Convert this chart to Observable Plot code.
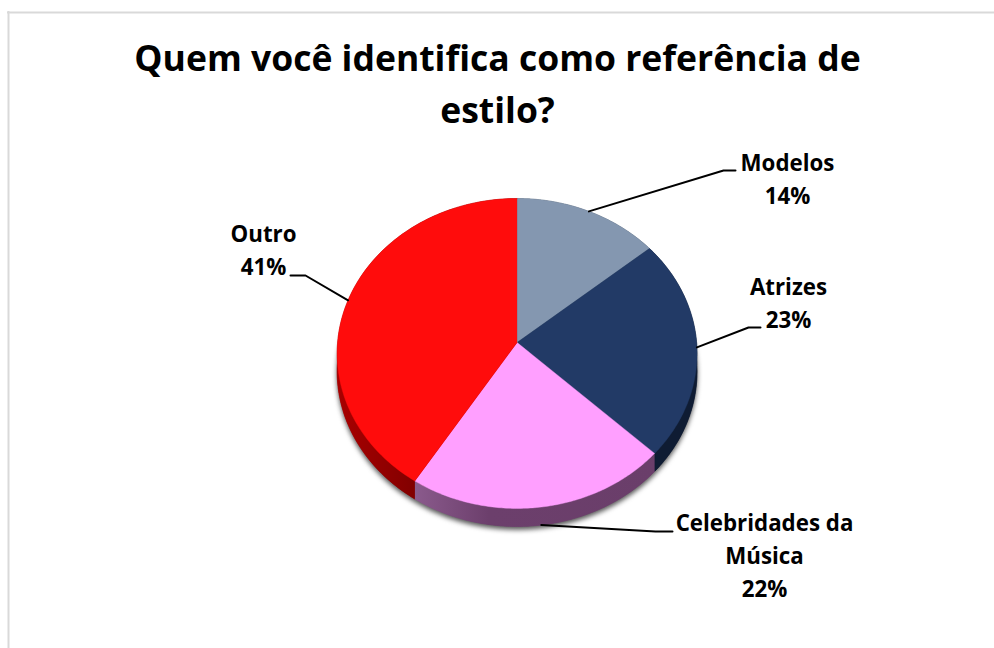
<!DOCTYPE html>
<html lang="pt">
<head>
<meta charset="utf-8">
<script src="https://cdn.jsdelivr.net/npm/d3@7"></script>
<script src="https://cdn.jsdelivr.net/npm/@observablehq/plot@0.6"></script>
<style>
html,body{margin:0;padding:0;background:#fff;overflow:hidden}
svg{display:block}
.shadow{filter:blur(2.5px)}
</style>
</head>
<body>
<script>
const categories = ["Modelos", "Atrizes", "Celebridades da\nMúsica", "Outro"];
const shares = [14, 23, 22, 41];
const titleLines = ["Quem você identifica como referência de\nestilo?"];

const topColors = ["#8497B0", "#223A66", "#FF9FFF", "#FF0C0C"];
const wallColors = ["#4F5B6A", "#0F1C33", "url(#wallPink)", "url(#wallRed)"];

// pie projection: perspective view of a unit disc
const cx = 516.6, cy = 342, R = 179.5, K = 154.2, P = 0.0708, DEPTH = 18;
const proj = (t, r = 1, dy = 0) => {
  const u = r * Math.sin(t), v = -r * Math.cos(t), w = 1 - P * v;
  return [cx + R * u / w, cy + K * v / w + dy];
};
const total = d3.sum(shares);
const cum = d3.cumsum(shares);
const slices = categories.map((name, i) => ({
  name,
  value: shares[i],
  a0: 2 * Math.PI * (cum[i] - shares[i]) / total,
  a1: 2 * Math.PI * cum[i] / total
}));
const arc = (s, dy = 0) => d3.range(0, 1.0001, 1 / 120).map(f => proj(s.a0 + f * (s.a1 - s.a0), 1, dy));
const face = (s, dy = 0) => [proj(0, 0, dy), ...arc(s, dy)];
const wall = s => [...arc(s), ...arc(s, DEPTH).reverse()];
const whole = dy => d3.range(0, 360, 1).map(d => proj(d * Math.PI / 180, 1, dy));

const lineOpts = c => ({x: d => d[0], y: d => d[1], fill: c, stroke: c, strokeWidth: 0.4, curve: "linear"});

// label layout: leader elbow offset, end offset, text centre
const leaders = [
  {elbow: [723, 170], end: [735, 170], text: [787, 176], dy: 0},
  {elbow: [748, 327], end: [760, 327], text: [788, 300], dy: 0},
  {elbow: [655, 531], end: [672, 531], text: [764, 553], dy: DEPTH},
  {elbow: [305, 275], end: [290, 275], text: [263, 247], dy: 0}
];
const labels = slices.map((s, i) => {
  const mid = (s.a0 + s.a1) / 2;
  return {
    label: `${s.name}\n${s.value}%`,
    x: leaders[i].text[0], y: leaders[i].text[1],
    path: [proj(mid, 1, leaders[i].dy), leaders[i].elbow, leaders[i].end]
  };
});

const defs = () => {
  const svg = d3.create("svg:g");
  const d = svg.append("defs");
  const grad = (id, stops) => {
    const g = d.append("linearGradient").attr("id", id).attr("gradientUnits", "userSpaceOnUse")
      .attr("x1", stops.x1).attr("x2", stops.x2).attr("y1", 0).attr("y2", 0);
    stops.c.forEach(([o, c]) => g.append("stop").attr("offset", o).attr("stop-color", c));
  };
  grad("wallPink", {x1: 415, x2: 660, c: [[0, "#8A5A8C"], [0.3, "#6C3F6C"], [1, "#6A3E6A"]]});
  grad("wallRed", {x1: 337, x2: 420, c: [[0, "#A80000"], [0.6, "#900000"], [1, "#7E0000"]]});
  return svg.node();
};

const chart = Plot.plot({
  width: 994,
  height: 648,
  margin: 0,
  x: {domain: [0, 994], range: [0, 994], axis: null},
  y: {domain: [0, 648], range: [0, 648], axis: null},
  marks: [
    defs,
    Plot.ruleY([12], {x1: 7, x2: 994, stroke: "#D9D9D9", strokeWidth: 2}),
    Plot.ruleX([8], {y1: 11, y2: 648, stroke: "#D9D9D9", strokeWidth: 2}),
    Plot.text(titleLines, {
      x: 497, y: 84, dy: -4, text: d => d, fontFamily: "Open Sans", fontWeight: 700, fontSize: 35.5,
      lineHeight: 1.47, fill: "#000", textAnchor: "middle"
    }),
    Plot.line(whole(DEPTH + 3), {...lineOpts("#555"), className: "shadow"}),
    ...slices.map((s, i) => Plot.line(face(s, DEPTH), lineOpts(wallColors[i]))),
    ...slices.map((s, i) => Plot.line(wall(s), lineOpts(wallColors[i]))),
    ...slices.map((s, i) => Plot.line(face(s), lineOpts(topColors[i]))),
    ...labels.map(l => Plot.line(l.path, {x: d => d[0], y: d => d[1], stroke: "#000", strokeWidth: 2, curve: "linear"})),
    Plot.text(labels, {
      x: "x", y: "y", text: "label", fontFamily: "Open Sans", fontWeight: 700, fontSize: 22.3,
      lineHeight: 1.48, fill: "#000", textAnchor: "middle"
    })
  ]
});
document.body.append(chart);
</script>
</body>
</html>
